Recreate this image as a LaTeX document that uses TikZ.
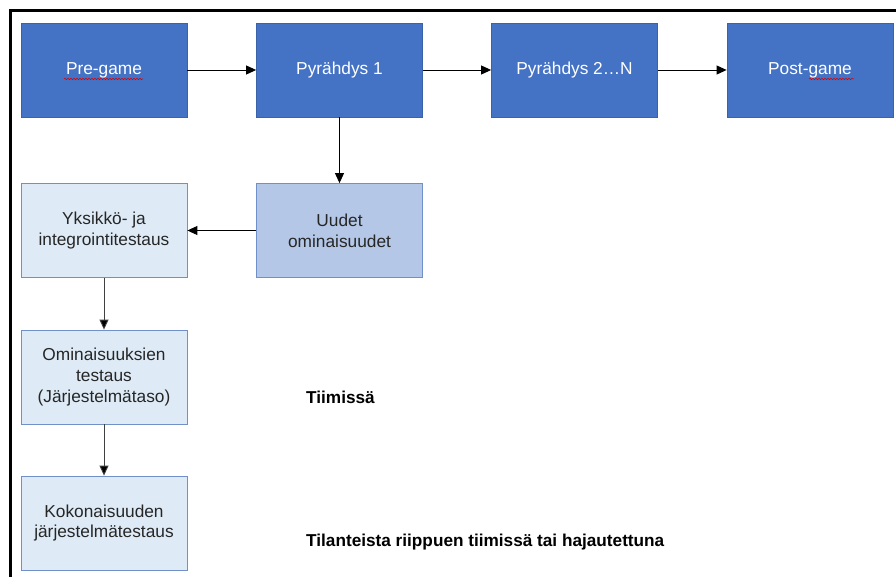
\documentclass[tikz,border=0pt]{standalone}
\usepackage{fontspec}
\setmainfont{Liberation Sans}
\usetikzlibrary{arrows.meta,decorations.pathmorphing}
\definecolor{dblue}{HTML}{4472C4}
\definecolor{dborder}{HTML}{3A62AA}
\definecolor{mblue}{HTML}{B4C7E7}
\definecolor{lblue}{HTML}{DEEBF7}
\definecolor{lborder}{HTML}{7190CA}
\definecolor{tgray}{HTML}{262626}
\definecolor{agray}{HTML}{404040}
\begin{document}
\begin{tikzpicture}[x=1pt,y=-1pt,
  box/.style={line width=0.8pt, minimum width=166pt, minimum height=94pt,
    inner sep=2pt, align=center, font=\fontsize{17.3}{20.7}\selectfont},
  darkbox/.style={box, fill=dblue, draw=dborder, text=white},
  midbox/.style={box, fill=mblue, draw=lborder, text=tgray},
  lightbox/.style={box, fill=lblue, draw=lborder, text=tgray},
  note/.style={anchor=west, inner sep=0pt, font=\bfseries\fontsize{17.2}{20}\selectfont},
  arr/.style={-{Triangle[length=10pt,width=9pt]}, line width=0.9pt},
  garr/.style={arr, draw=agray, -{Triangle[length=10pt,width=9pt,fill=black]}},
  spell/.style={draw=red!85!black, line width=0.5pt,
    decorate, decoration={snake, amplitude=0.8pt, segment length=3pt}}
]
\useasboundingbox (0,0) rectangle (896,577);
\fill[white] (0,0) rectangle (896,577);
% frame
\draw[line width=3pt] (10.5,577) -- (10.5,10.5) -- (896,10.5);

% top row
\node[darkbox] (pre)  at (104,70)   {Pre-game};
\node[darkbox] (p1)   at (339.5,70) {Pyrähdys 1};
\node[darkbox] (p2)   at (574.5,70) {Pyrähdys 2…N};
\node[darkbox] (post) at (810,70)   {Post-game};

% second level
\node[midbox]   (uudet) at (339.5,230.5) {Uudet\\ominaisuudet};
\node[lightbox] (yks)   at (104,230.5)   {Yksikkö- ja\\integrointitestaus};
\node[lightbox] (omin)  at (104,377)     {Ominaisuuksien\\testaus\\(Järjestelmätaso)};
\node[lightbox] (koko)  at (104,523)     {Kokonaisuuden\\järjestelmätestaus};

% notes
\node[note] (tiim) at (306,397) {Tiimissä};
\node[note] (tilan) at (306,542) {Tilanteista riippuen tiimissä tai hajautettuna};

% spelling underlines
\draw[spell] (64,79) -- (143,79);
\draw[spell] (809,79) -- (854,79);

% connectors
\draw[arr] (pre) -- (p1);
\draw[arr] (p1) -- (p2);
\draw[arr] (p2) -- (post);
\draw[arr] (p1) -- (uudet);
\draw[arr] (uudet) -- (yks);
\draw[garr] (yks) -- (omin);
\draw[garr] (omin) -- (koko);
\end{tikzpicture}
\end{document}
